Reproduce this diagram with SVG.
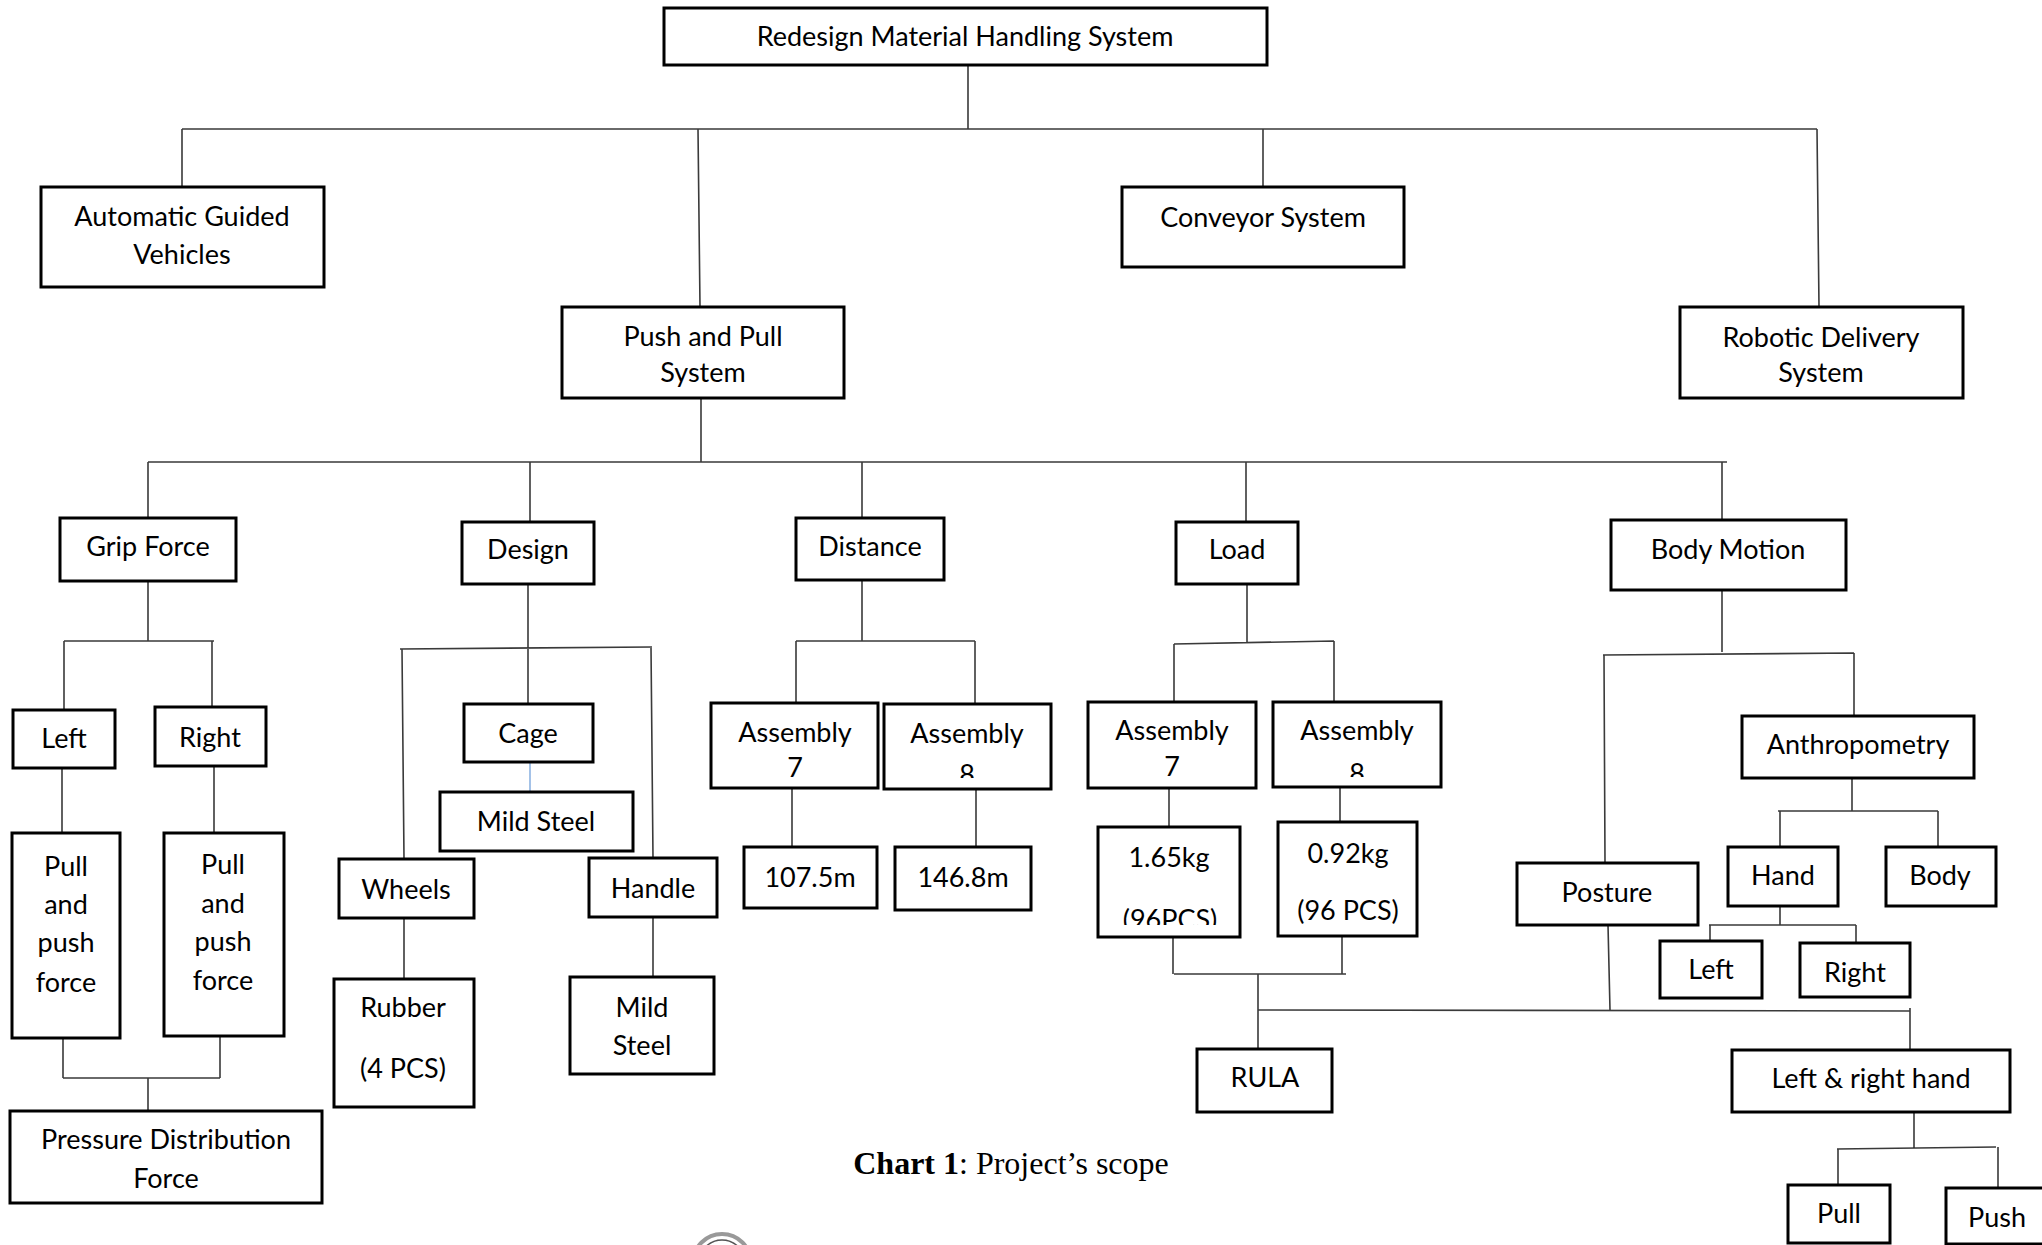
<svg xmlns="http://www.w3.org/2000/svg" width="2042" height="1245" viewBox="0 0 2042 1245">
<style>
.b{fill:#fff;stroke:#000;stroke-width:3}
.t{font-family:Lato,"Liberation Sans",sans-serif;font-size:27px;fill:#000;text-anchor:middle}
.c path{fill:none;stroke:#3a3a3a;stroke-width:1.6}
.cap{font-family:"Liberation Serif","Times New Roman",serif;font-size:32px;fill:#000;text-anchor:middle}
</style>
<defs>
<clipPath id="clipA8d"><rect x="884" y="700" width="167" height="78"/></clipPath>
<clipPath id="clipA8l"><rect x="1273" y="700" width="168" height="77"/></clipPath>
<clipPath id="clip96"><rect x="1098" y="827" width="142" height="98"/></clipPath>
</defs>
<rect width="2042" height="1245" fill="#fff"/>
<g class="c" id="connectors">
<path d="M968 65V129M182 129H1817M182 129V187M698 129L700 307M1263 129V187M1817 129L1819 307"/>
<path d="M701 398V462M148 462H1727M148 462V518M530 462V522M862 462V518M1246 462V522M1722 462V520"/>
<path d="M148 581V641M64 641H214M64 641V710M212 641V707M62 768V833M214 766V833M63 1038V1078M220 1036V1078M63 1078H220M148 1078V1111"/>
<path d="M528 584V648M400 649L652 647M402 649L404 859M528 648V704M651 647L653 858M404 918V979M653 917V977"/>
<path d="M530 762V792" style="stroke:#8db3e2"/>
<path d="M862 580V641M796 641H975M796 641V703M975 641V704M792 788V847M976 789V847"/>
<path d="M1247 584V643M1174 644L1334 641M1174 644V702M1334 641V702M1169 788V827M1340 787V822M1173 935V974M1342 936V974M1174 974H1346M1258 974V1049M1258 1010L1910 1011M1910 1008V1050"/>
<path d="M1722 590V652M1603 655L1854 653M1604 655L1605 863M1854 653V716M1852 778V811M1778 811H1938M1780 811V847M1938 811V847M1780 906V925M1709 925H1856M1710 925V941M1856 925V943M1608 925L1610 1010M1914 1112V1148M1837 1149L1996 1147M1838 1149V1185M1998 1147V1188"/>
</g>
<g id="root"><rect class="b" x="664" y="8" width="603" height="57"/><text class="t" x="965" y="46">Redesign Material Handling System</text></g>
<g id="agv"><rect class="b" x="41" y="187" width="283" height="100"/><text class="t" x="182" y="226">Automatic Guided</text><text class="t" x="182" y="264">Vehicles</text></g>
<g id="conveyor"><rect class="b" x="1122" y="187" width="282" height="80"/><text class="t" x="1263" y="227">Conveyor System</text></g>
<g id="pushpull"><rect class="b" x="562" y="307" width="282" height="91"/><text class="t" x="703" y="346">Push and Pull</text><text class="t" x="703" y="382">System</text></g>
<g id="robotic"><rect class="b" x="1680" y="307" width="283" height="91"/><text class="t" x="1821" y="347">Robotic Delivery</text><text class="t" x="1821" y="382">System</text></g>
<g id="grip"><rect class="b" x="60" y="518" width="176" height="63"/><text class="t" x="148" y="556">Grip Force</text></g>
<g id="design"><rect class="b" x="462" y="522" width="132" height="62"/><text class="t" x="528" y="559">Design</text></g>
<g id="distance"><rect class="b" x="796" y="518" width="148" height="62"/><text class="t" x="870" y="556">Distance</text></g>
<g id="load"><rect class="b" x="1176" y="522" width="122" height="62"/><text class="t" x="1237" y="559">Load</text></g>
<g id="bodymotion"><rect class="b" x="1611" y="520" width="235" height="70"/><text class="t" x="1728" y="559">Body Motion</text></g>
<g id="left1"><rect class="b" x="13" y="710" width="102" height="58"/><text class="t" x="64" y="748">Left</text></g>
<g id="right1"><rect class="b" x="155" y="707" width="111" height="59"/><text class="t" x="210" y="747">Right</text></g>
<g id="ppf1"><rect class="b" x="12" y="833" width="108" height="205"/><text class="t" x="66" y="876">Pull</text><text class="t" x="66" y="914">and</text><text class="t" x="66" y="952">push</text><text class="t" x="66" y="992">force</text></g>
<g id="ppf2"><rect class="b" x="164" y="833" width="120" height="203"/><text class="t" x="223" y="874">Pull</text><text class="t" x="223" y="913">and</text><text class="t" x="223" y="951">push</text><text class="t" x="223" y="990">force</text></g>
<g id="pressure"><rect class="b" x="10" y="1111" width="312" height="92"/><text class="t" x="166" y="1149">Pressure Distribution</text><text class="t" x="166" y="1188">Force</text></g>
<g id="cage"><rect class="b" x="464" y="704" width="129" height="58"/><text class="t" x="528" y="743">Cage</text></g>
<g id="mildsteel1"><rect class="b" x="440" y="792" width="193" height="59"/><text class="t" x="536" y="831">Mild Steel</text></g>
<g id="wheels"><rect class="b" x="339" y="859" width="135" height="59"/><text class="t" x="406" y="899">Wheels</text></g>
<g id="handle"><rect class="b" x="589" y="858" width="128" height="59"/><text class="t" x="653" y="898">Handle</text></g>
<g id="rubber"><rect class="b" x="334" y="979" width="140" height="128"/><text class="t" x="403" y="1017">Rubber</text><text class="t" x="403" y="1078">(4 PCS)</text></g>
<g id="mildsteel2"><rect class="b" x="570" y="977" width="144" height="97"/><text class="t" x="642" y="1017">Mild</text><text class="t" x="642" y="1055">Steel</text></g>
<g id="asm7d"><rect class="b" x="711" y="703" width="167" height="85"/><text class="t" x="795" y="742">Assembly</text><text class="t" x="795" y="777">7</text></g>
<g id="asm8d"><rect class="b" x="884" y="704" width="167" height="85"/><text class="t" x="967" y="743">Assembly</text><text class="t" x="967" y="784" clip-path="url(#clipA8d)">8</text></g>
<g id="d107"><rect class="b" x="744" y="847" width="133" height="61"/><text class="t" x="810" y="887">107.5m</text></g>
<g id="d146"><rect class="b" x="895" y="847" width="136" height="63"/><text class="t" x="963" y="887">146.8m</text></g>
<g id="asm7l"><rect class="b" x="1088" y="702" width="168" height="86"/><text class="t" x="1172" y="740">Assembly</text><text class="t" x="1172" y="776">7</text></g>
<g id="asm8l"><rect class="b" x="1273" y="702" width="168" height="85"/><text class="t" x="1357" y="740">Assembly</text><text class="t" x="1357" y="783" clip-path="url(#clipA8l)">8</text></g>
<g id="kg165"><rect class="b" x="1098" y="827" width="142" height="110"/><text class="t" x="1169" y="867">1.65kg</text><text class="t" x="1170" y="929" clip-path="url(#clip96)">(96PCS)</text></g>
<g id="kg092"><rect class="b" x="1278" y="822" width="139" height="114"/><text class="t" x="1348" y="863">0.92kg</text><text class="t" x="1348" y="920">(96 PCS)</text></g>
<g id="rula"><rect class="b" x="1197" y="1049" width="135" height="63"/><text class="t" x="1265" y="1087">RULA</text></g>
<g id="anthropometry"><rect class="b" x="1742" y="716" width="232" height="62"/><text class="t" x="1858" y="754">Anthropometry</text></g>
<g id="hand"><rect class="b" x="1728" y="847" width="110" height="59"/><text class="t" x="1783" y="885">Hand</text></g>
<g id="body"><rect class="b" x="1886" y="847" width="110" height="59"/><text class="t" x="1940" y="885">Body</text></g>
<g id="left2"><rect class="b" x="1660" y="941" width="102" height="57"/><text class="t" x="1711" y="979">Left</text></g>
<g id="right2"><rect class="b" x="1800" y="943" width="110" height="54"/><text class="t" x="1855" y="982">Right</text></g>
<g id="posture"><rect class="b" x="1517" y="863" width="181" height="62"/><text class="t" x="1607" y="902">Posture</text></g>
<g id="lrhand"><rect class="b" x="1732" y="1050" width="278" height="62"/><text class="t" x="1871" y="1088">Left &amp; right hand</text></g>
<g id="pull"><rect class="b" x="1788" y="1185" width="102" height="58"/><text class="t" x="1839" y="1223">Pull</text></g>
<g id="push"><rect class="b" x="1946" y="1188" width="110" height="56"/><text class="t" x="1997" y="1227">Push</text></g>
<text class="cap" x="1011" y="1174"><tspan font-weight="bold">Chart 1</tspan>: Project’s scope</text>
<g id="emblem"><circle cx="722" cy="1263" r="29" fill="none" stroke="#999" stroke-width="4"/><circle cx="722" cy="1263" r="23" fill="none" stroke="#555" stroke-width="1.5"/></g>
</svg>
